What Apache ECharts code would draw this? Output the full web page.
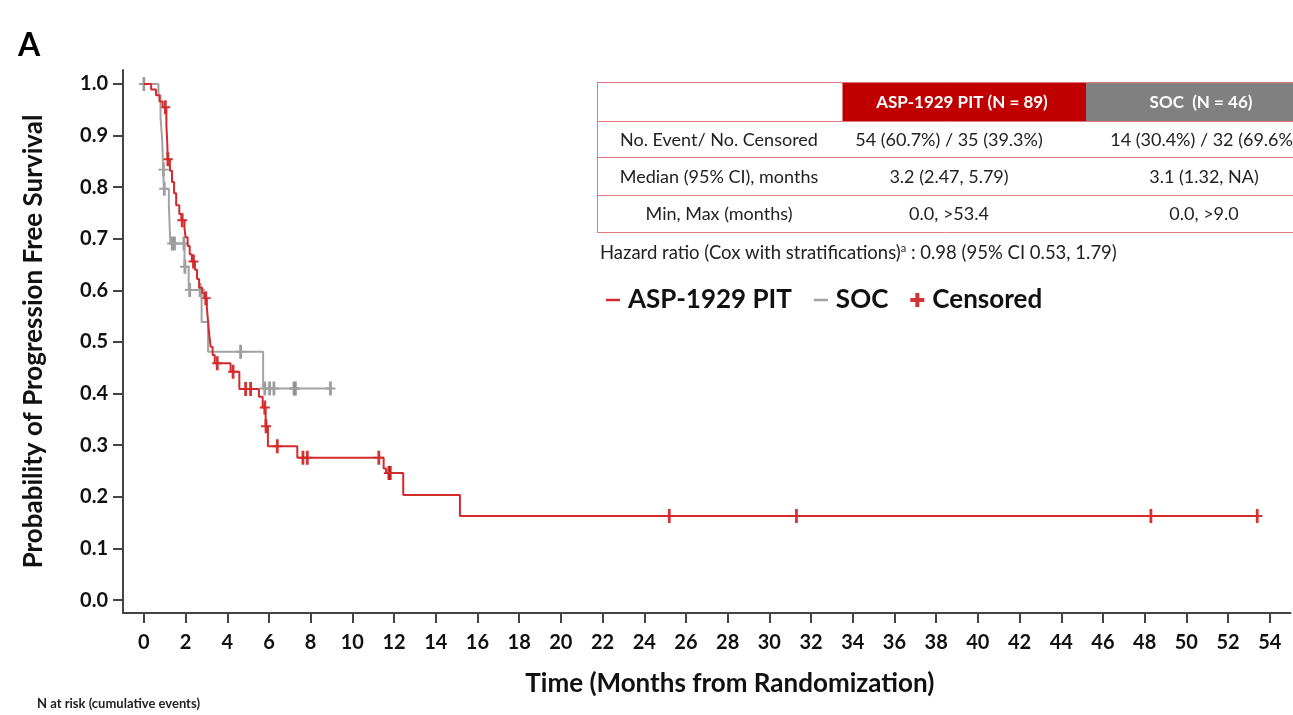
<!DOCTYPE html>
<html style="height: 100%">
    <head>
        <title>PFS Kaplan-Meier</title>
        <meta charset="utf-8">
    </head>
    <body style="height: 100%; margin: 0; background: #fff">
        <div id="container" style="height: 100%"></div>

        <script type="text/javascript" src="https://cdn.jsdelivr.net/npm/echarts@6.0.0/dist/echarts.min.js"></script>
        <script type="text/javascript">
            // ASP-1929 PIT step curve (time in months, survival)
            var pitTime = [0, 0.35, 0.58, 0.75, 0.9, 1.08, 1.12, 1.15, 1.25, 1.35, 1.45, 1.55, 1.7, 1.8, 1.95, 2.0, 2.1, 2.2, 2.3, 2.45, 2.55, 2.65, 2.8, 2.9, 3.02, 3.06, 3.1, 3.15, 3.2, 3.3, 3.4, 4.16, 4.58, 5.52, 5.7, 5.84, 5.95, 7.36, 11.5, 11.62, 12.44, 15.16, 53.4];
            var pitSurv = [1.0, 0.989, 0.978, 0.966, 0.955, 0.921, 0.888, 0.854, 0.832, 0.81, 0.788, 0.765, 0.748, 0.736, 0.72, 0.703, 0.686, 0.67, 0.656, 0.64, 0.622, 0.605, 0.595, 0.585, 0.567, 0.549, 0.53, 0.51, 0.491, 0.475, 0.459, 0.4425, 0.409, 0.394, 0.373, 0.337, 0.298, 0.276, 0.255, 0.246, 0.2035, 0.163, 0.163];
            var pitCensorTime = [1.03, 1.15, 1.84, 2.38, 2.97, 3.52, 4.28, 4.88, 5.12, 5.8, 5.86, 6.4, 7.63, 7.84, 11.27, 11.75, 11.82, 25.2, 31.3, 48.3, 53.4];
            var pitCensorSurv = [0.955, 0.854, 0.736, 0.656, 0.585, 0.459, 0.4425, 0.409, 0.409, 0.373, 0.337, 0.298, 0.276, 0.276, 0.276, 0.246, 0.246, 0.163, 0.163, 0.163, 0.163];

            // SOC step curve
            var socTime = [0, 0.7, 0.8, 0.88, 0.93, 0.96, 1.2, 1.27, 1.95, 2.15, 2.77, 3.08, 5.72, 9.0];
            var socSurv = [1.0, 0.978, 0.935, 0.891, 0.834, 0.797, 0.766, 0.691, 0.646, 0.601, 0.539, 0.481, 0.41, 0.41];
            var socCensorTime = [0, 0.94, 0.98, 1.36, 1.47, 1.92, 1.97, 2.2, 2.7, 4.64, 5.8, 6.03, 6.24, 7.2, 7.27, 8.95];
            var socCensorSurv = [1.0, 0.834, 0.797, 0.691, 0.691, 0.691, 0.646, 0.601, 0.601, 0.481, 0.41, 0.41, 0.41, 0.41, 0.41, 0.41];

            var xTicks = [0, 2, 4, 6, 8, 10, 12, 14, 16, 18, 20, 22, 24, 26, 28, 30, 32, 34, 36, 38, 40, 42, 44, 46, 48, 50, 52, 54];
            var yTicks = [0, 0.1, 0.2, 0.3, 0.4, 0.5, 0.6, 0.7, 0.8, 0.9, 1.0];

            var tableHead = ['', 'ASP-1929 PIT (N = 89)', 'SOC  (N = 46)'];
            var tableRows = [
                ['No. Event/ No. Censored', '54 (60.7%) / 35 (39.3%)', '14 (30.4%) / 32 (69.6%)'],
                ['Median (95% CI), months', '3.2 (2.47, 5.79)', '3.1 (1.32, NA)'],
                ['Min, Max (months)', '0.0, >53.4', '0.0, >9.0']
            ];
            var hazardText = 'Hazard ratio (Cox with stratifications)';
            var hazardValue = ' : 0.98 (95% CI 0.53, 1.79)';

            function zip(a, b) {
                var out = [];
                for (var i = 0; i < a.length; i++) out.push([a[i], b[i]]);
                return out;
            }

            var FONT = 'Lato, "Open Sans", sans-serif';
            var RED = '#d42a2e';
            var GRAY = '#a3a3a3';
            var plusPath = 'path://M3.6,0H6.4V20H3.6ZM0,8.6H10V11.4H0Z';
            var legendPlus = 'path://M5,0H9V14H5ZM0,5H14V9H0Z';
            var legendDash = 'path://M0,6H14V8.5H0Z';

            // table drawn as graphic elements
            var colX = [597, 842, 1086, 1296];
            var rowY = [82, 121, 157, 195, 232];
            var border = '#e27a7c';
            var graphics = [];
            graphics.push({ type: 'rect', shape: { x: colX[1], y: rowY[0], width: colX[2] - colX[1], height: rowY[1] - rowY[0] }, style: { fill: '#c00000' } });
            graphics.push({ type: 'rect', shape: { x: colX[2], y: rowY[0], width: colX[3] - colX[2], height: rowY[1] - rowY[0] }, style: { fill: '#808080' } });
            for (var r = 0; r < rowY.length; r++) {
                graphics.push({ type: 'line', shape: { x1: colX[0], y1: rowY[r] + 0.5, x2: colX[3], y2: rowY[r] + 0.5 }, style: { stroke: border, lineWidth: 1 } });
            }
            graphics.push({ type: 'line', shape: { x1: colX[0] + 0.5, y1: rowY[0], x2: colX[0] + 0.5, y2: rowY[4] }, style: { stroke: border, lineWidth: 1 } });
            graphics.push({ type: 'line', shape: { x1: colX[1] + 0.5, y1: rowY[0], x2: colX[1] + 0.5, y2: rowY[1] }, style: { stroke: border, lineWidth: 1 } });
            var colC = [719, 949, 1204];
            var headC = [719, 962, 1201];
            for (var c = 1; c < 3; c++) {
                graphics.push({ type: 'text', style: { text: tableHead[c], x: headC[c], y: (rowY[0] + rowY[1]) / 2 + 1, align: 'center', verticalAlign: 'middle', textAlign: 'center', textVerticalAlign: 'middle', font: 'bold 17px ' + FONT, fill: '#fff' } });
            }
            for (var i = 0; i < tableRows.length; i++) {
                for (var j = 0; j < 3; j++) {
                    graphics.push({ type: 'text', style: { text: tableRows[i][j], x: colC[j], y: (rowY[i + 1] + rowY[i + 2]) / 2 + 1, align: 'center', verticalAlign: 'middle', textAlign: 'center', textVerticalAlign: 'middle', font: '18px ' + FONT, fill: '#222' } });
                }
            }
            graphics.push({
                type: 'text', left: 600, top: 243,
                style: {
                    text: '{t|' + hazardText + '}{s|a}{t|' + hazardValue + '}',
                    rich: {
                        t: { font: '18.5px ' + FONT, fill: '#222' },
                        s: { font: '11px ' + FONT, fill: '#222', verticalAlign: 'top', padding: [0, 0, 9, 0] }
                    }
                }
            });
            graphics.push({ type: 'text', left: 18, top: 30, style: { text: 'A', font: 'bold 32px ' + FONT, fill: '#000' } });
            graphics.push({ type: 'text', left: 37, top: 697, style: { text: 'N at risk (cumulative events)', font: 'bold 13px ' + FONT, fill: '#222' } });

            var dom = document.getElementById("container");
            var myChart = echarts.init(dom);

            var option = {
                animation: false,
                backgroundColor: '#fff',
                textStyle: { fontFamily: FONT },
                grid: { left: 123, top: 70, right: 2.4, bottom: 102, containLabel: false, outerBoundsMode: 'none' },
                legend: {
                    left: 601, top: 282,
                    itemWidth: 14, itemHeight: 14, itemGap: 22,
                    selectedMode: false,
                    textStyle: { fontSize: 26, fontWeight: 'bold', color: '#111', fontFamily: FONT, padding: [0, 0, 0, 3] },
                    data: [
                        { name: 'ASP-1929 PIT', icon: legendDash },
                        { name: 'SOC', icon: legendDash },
                        { name: 'Censored', icon: legendPlus }
                    ]
                },
                xAxis: {
                    type: 'value', min: -1, max: 55,
                    name: 'Time (Months from Randomization)',
                    nameLocation: 'middle', nameGap: 58,
                    nameTextStyle: { fontSize: 26, fontWeight: 'bold', color: '#111', fontFamily: FONT, padding: [0, 0, 0, 46] },
                    splitLine: { show: false },
                    axisLine: { show: true, onZero: false, lineStyle: { color: '#444', width: 2 } },
                    axisTick: { show: true, length: 10, customValues: xTicks, lineStyle: { color: '#444', width: 2 } },
                    axisLabel: { customValues: xTicks, margin: 20, fontSize: 20, fontWeight: 'bold', color: '#111', fontFamily: FONT }
                },
                yAxis: {
                    type: 'value', min: -0.025, max: 1.027,
                    name: 'Probability of Progression Free Survival',
                    nameLocation: 'middle', nameGap: 76,
                    nameTextStyle: { fontSize: 26, fontWeight: 'bold', color: '#111', fontFamily: FONT },
                    splitLine: { show: false },
                    axisLine: { show: true, onZero: false, lineStyle: { color: '#444', width: 2 } },
                    axisTick: { show: true, length: 10, customValues: yTicks, lineStyle: { color: '#444', width: 2 } },
                    axisLabel: {
                        customValues: yTicks, margin: 15, fontSize: 20, fontWeight: 'bold', color: '#111', fontFamily: FONT,
                        formatter: function (v) { return v.toFixed(1); }
                    }
                },
                series: [
                    {
                        name: 'SOC', type: 'line', step: 'end', showSymbol: false,
                        data: zip(socTime, socSurv),
                        itemStyle: { color: GRAY },
                        lineStyle: { color: GRAY, width: 2 }
                    },
                    {
                        name: 'ASP-1929 PIT', type: 'line', step: 'end', showSymbol: false,
                        data: zip(pitTime, pitSurv),
                        itemStyle: { color: RED },
                        lineStyle: { color: RED, width: 2 }
                    },
                    {
                        name: 'SOC censored', type: 'scatter',
                        symbol: plusPath, symbolSize: [10, 14], symbolKeepAspect: false,
                        data: zip(socCensorTime, socCensorSurv),
                        itemStyle: { color: '#858585' }
                    },
                    {
                        name: 'Censored', type: 'scatter',
                        symbol: plusPath, symbolSize: [10, 14], symbolKeepAspect: false,
                        data: zip(pitCensorTime, pitCensorSurv),
                        itemStyle: { color: '#c80000' }
                    }
                ],
                graphic: graphics
            };

            myChart.setOption(option);

            window.onresize = function () {
                myChart.resize();
            };
        </script>
    </body>
</html>
